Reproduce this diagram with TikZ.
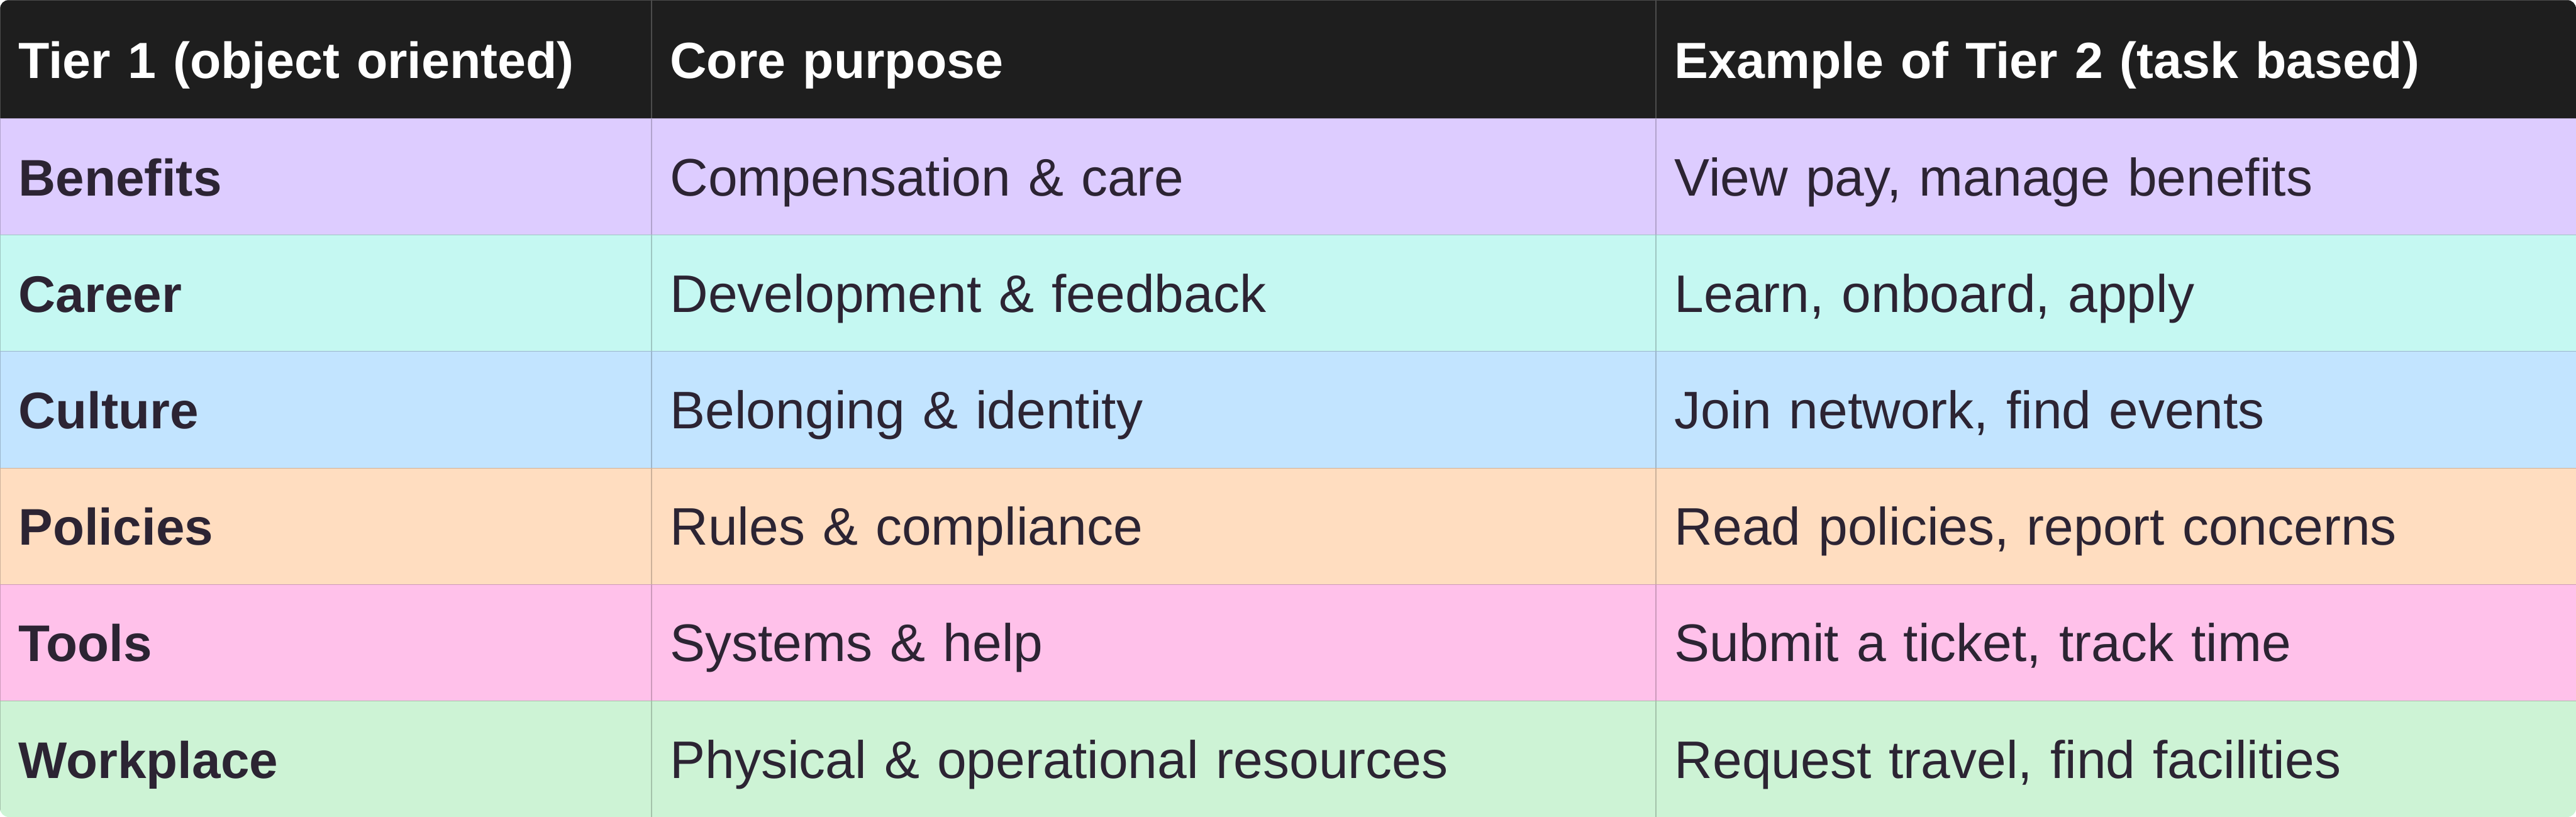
\documentclass[tikz,border=0pt]{standalone}
\usepackage{fontspec}
\setmainfont{Liberation Sans}
\usepackage{xcolor}
\definecolor{hdr}{HTML}{1E1E1E}
\definecolor{ink}{HTML}{2C2433}
\definecolor{rowA}{HTML}{DDCCFF}
\definecolor{rowB}{HTML}{C5F8F2}
\definecolor{rowC}{HTML}{C2E4FF}
\definecolor{rowD}{HTML}{FFDDC0}
\definecolor{rowE}{HTML}{FFC1EA}
\definecolor{rowF}{HTML}{CDF3D5}
\begin{document}
\begin{tikzpicture}[font=\fontsize{23.9}{28}\selectfont]
    \tikzstyle{cell}=[rectangle, anchor=north west, inner xsep=0.29cm, inner ysep=0pt, minimum height=1.852cm, text height=0.6cm, text depth=0pt, align=left]
    \tikzstyle{colA}=[cell, minimum width=10.35cm, text width=9.77cm]
    \tikzstyle{colB}=[cell, minimum width=15.96cm, text width=15.38cm]
    \tikzstyle{colC}=[cell, minimum width=14.65cm, text width=14.07cm]
    \tikzstyle{head}=[fill=hdr, text=white, font=\fontsize{23}{27}\selectfont\bfseries, minimum height=1.88cm, draw=black!70, line width=0.3pt]

    \useasboundingbox (0,0) rectangle (40.96,-12.99);
    \begin{scope}
    \clip[rounded corners=0.14cm] (0,0) rectangle (40.96,-12.99);

    % header
    \node[colA, head] (hdA) at (0,0) {Tier 1 (object oriented)};
    \node[colB, head] (hdB) at (hdA.north east) {Core purpose};
    \node[colC, head] (hdC) at (hdB.north east) {Example of Tier 2 (task based)};

    % rows
    \foreach \tone/\tierA/\purpose/\tierB [count=\i] in {
        rowA/Benefits/{Compensation \& care}/{View pay, manage benefits},
        rowB/Career/{Development \& feedback}/{Learn, onboard, apply},
        rowC/Culture/{Belonging \& identity}/{Join network, find events},
        rowD/Policies/{Rules \& compliance}/{Read policies, report concerns},
        rowE/Tools/{Systems \& help}/{Submit a ticket, track time},
        rowF/Workplace/{Physical \& operational resources}/{Request travel, find facilities}} {
      \node[colA, fill=\tone, draw=\tone!80!black, line width=0.3pt, text=ink, font=\fontsize{23.3}{28}\selectfont\bfseries] (a\i) at (0,{-1.88-(\i-1)*1.852}) {\tierA};
      \node[colB, fill=\tone, draw=\tone!80!black, line width=0.3pt, text=ink] (b\i) at (a\i.north east) {\purpose};
      \node[colC, fill=\tone, draw=\tone!80!black, line width=0.3pt, text=ink] (c\i) at (b\i.north east) {\tierB};
    }
    \end{scope}
  \end{tikzpicture}
\end{document}
